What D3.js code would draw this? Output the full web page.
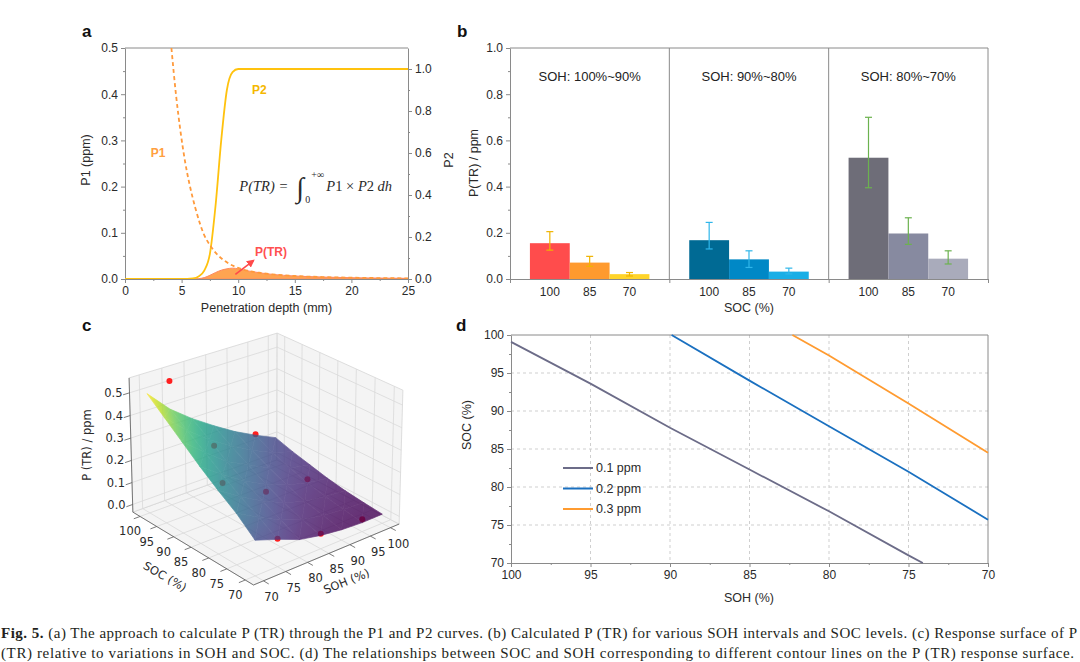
<!DOCTYPE html>
<html>
<head>
<meta charset="utf-8">
<script src="https://cdn.jsdelivr.net/npm/d3@7"></script>
<style>
  body { margin: 0; background: #fff; }
  svg { display: block; }
</style>
</head>
<body>
<svg width="1080" height="662"></svg>
<script>
// ---------- DATA ----------
// panel a : curves
const p1Depth = [4.1, 4.5, 4.9, 5.3, 5.7, 6.2, 7.0, 7.6, 8.0, 9.0, 10, 11, 12, 13, 15, 17.5, 20, 22.5, 25];
const p1Vals  = [0.5, 0.4, 0.32, 0.255, 0.205, 0.155, 0.095, 0.07, 0.057, 0.036, 0.024, 0.017, 0.013, 0.01, 0.0065, 0.0042, 0.0028, 0.002, 0.0014];
const p2Depth = [0, 5, 6, 6.5, 7, 7.5, 8, 8.5, 9, 9.5, 10, 25];
const p2Vals  = [0, 0, 0.003, 0.012, 0.04, 0.12, 0.35, 0.66, 0.9, 0.985, 1, 1];
const trDepth = [6.0, 6.5, 7.0, 7.5, 8.0, 8.5, 9.0, 9.5, 10, 11, 12, 13, 15, 17.5, 20, 22.5, 25];
const trVals  = [0, 0.0008, 0.003, 0.008, 0.014, 0.019, 0.022, 0.0235, 0.022, 0.017, 0.013, 0.01, 0.0065, 0.0042, 0.0028, 0.002, 0.0014];

// panel b : P(TR) per SOH interval and SOC level
const sohGroups = ["SOH: 100%~90%", "SOH: 90%~80%", "SOH: 80%~70%"];
const socLevels = ["100", "85", "70"];
const ptrMean = [[0.155, 0.071, 0.021], [0.168, 0.085, 0.032], [0.525, 0.197, 0.088]];
const ptrLow  = [[0.125, 0.055, 0.013], [0.130, 0.050, 0.022], [0.395, 0.150, 0.065]];
const ptrHigh = [[0.205, 0.098, 0.028], [0.245, 0.122, 0.047], [0.700, 0.265, 0.122]];

// panel c : response surface grid (rows SOH 70..100, cols SOC 70..100)
const gridSoh = [70, 75, 80, 85, 90, 95, 100];
const gridSoc = [70, 75, 80, 85, 90, 95, 100];
const surfZ = [
  [0.120, 0.190, 0.245, 0.305, 0.370, 0.435, 0.500],
  [0.085, 0.135, 0.180, 0.235, 0.290, 0.345, 0.400],
  [0.045, 0.085, 0.125, 0.170, 0.215, 0.270, 0.325],
  [0.025, 0.050, 0.080, 0.120, 0.165, 0.210, 0.260],
  [0.012, 0.030, 0.050, 0.080, 0.115, 0.155, 0.200],
  [0.006, 0.020, 0.035, 0.055, 0.080, 0.110, 0.150],
  [0.007, 0.015, 0.025, 0.040, 0.060, 0.080, 0.105]
];
const ptsSoh = [95, 85, 75];      // SOH interval mid points
const ptsSoc = [100, 85, 70];
const zTicks = [0, 0.1, 0.2, 0.3, 0.4, 0.5];

// panel d : contour lines
const contourLabels = ["0.1 ppm", "0.2 ppm", "0.3 ppm"];
const c1Soh = [100, 95, 90, 85, 80, 75, 74.1];
const c1Soc = [99.1, 93.6, 87.8, 82.3, 76.8, 71.0, 70];
const c2Soh = [89.9, 85, 80, 75, 70];
const c2Soc = [100, 94.0, 88.0, 82.0, 75.7];
const c3Soh = [82.3, 80, 75, 70];
const c3Soc = [100, 97.3, 91.0, 84.5];

// ---------- SETUP ----------
const svg = d3.select("svg");
const sans = "'Liberation Sans', Arial, sans-serif";
const axisGray = "#8a8a8a";
const textCol = "#2a2a2a";
const tickSize = 12, titleSize = 12.5;

function styleAxis(g) {
  g.attr("font-size", tickSize).attr("font-family", sans);
  g.select(".domain").attr("stroke", axisGray);
  g.selectAll(".tick line").attr("stroke", axisGray);
  g.selectAll(".tick text").attr("fill", textCol);
}
function minorAxis(g) {
  g.select(".domain").remove();
  g.selectAll(".tick line").attr("stroke", axisGray);
}
function panelLetter(x, y, t) {
  svg.append("text").attr("x", x).attr("y", y).attr("font-family", sans)
    .attr("font-size", 17).attr("font-weight", "bold").attr("fill", "#111").text(t);
}

svg.append("defs").append("marker")
  .attr("id", "arrowRed").attr("viewBox", "0 0 10 10").attr("refX", 8).attr("refY", 5)
  .attr("markerWidth", 5).attr("markerHeight", 5).attr("orient", "auto")
  .append("path").attr("d", "M0,0 L10,5 L0,10 z").attr("fill", "#ff4a4a");

// ---------- PANEL A ----------
const aX = d3.scaleLinear().domain([0, 25]).range([125, 408]);
const aY1 = d3.scaleLinear().domain([0, 0.5]).range([279, 48]);
const aY2 = d3.scaleLinear().domain([0, 1.1]).range([279, 48]);

svg.append("clipPath").attr("id", "clipA").append("rect")
  .attr("x", 125).attr("y", 48).attr("width", 283).attr("height", 231);

const gA = svg.append("g");
gA.append("line").attr("x1", 125).attr("x2", 408).attr("y1", 48).attr("y2", 48).attr("stroke", axisGray);

gA.append("g").attr("transform", "translate(0,279)")
  .call(d3.axisBottom(aX).tickValues(d3.range(2.5, 25, 5)).tickSize(2).tickFormat("")).call(minorAxis);
gA.append("g").attr("transform", "translate(0,279)")
  .call(d3.axisBottom(aX).tickValues(d3.range(0, 26, 5)).tickSize(4).tickSizeOuter(0).tickFormat(d3.format("d"))).call(styleAxis);
gA.append("g").attr("transform", "translate(125,0)")
  .call(d3.axisLeft(aY1).tickValues(d3.range(0.05, 0.5, 0.1)).tickSize(2).tickFormat("")).call(minorAxis);
gA.append("g").attr("transform", "translate(125,0)")
  .call(d3.axisLeft(aY1).tickValues(d3.range(0, 0.51, 0.1)).tickSize(4).tickSizeOuter(0).tickFormat(d3.format(".1f"))).call(styleAxis);
gA.append("g").attr("transform", "translate(408,0)")
  .call(d3.axisRight(aY2).tickValues(d3.range(0.1, 1.1, 0.2)).tickSize(2).tickFormat("")).call(minorAxis);
gA.append("g").attr("transform", "translate(408,0)")
  .call(d3.axisRight(aY2).tickValues(d3.range(0, 1.01, 0.2)).tickSize(4).tickSizeOuter(0).tickFormat(d3.format(".1f"))).call(styleAxis);

const plotA = gA.append("g").attr("clip-path", "url(#clipA)");
plotA.append("path")
  .datum(trDepth.map((d, i) => [d, trVals[i]]))
  .attr("d", d3.area().x(d => aX(d[0])).y0(aY1(0)).y1(d => aY1(d[1])).curve(d3.curveMonotoneX))
  .attr("fill", "#ffa451").attr("stroke", "#ff8860").attr("stroke-width", 1);
plotA.append("path")
  .datum(p2Depth.map((d, i) => [d, p2Vals[i]]))
  .attr("d", d3.line().x(d => aX(d[0])).y(d => aY2(d[1])).curve(d3.curveMonotoneX))
  .attr("fill", "none").attr("stroke", "#ffc20e").attr("stroke-width", 1.8);
plotA.append("path")
  .datum(p1Depth.map((d, i) => [d, p1Vals[i]]))
  .attr("d", d3.line().x(d => aX(d[0])).y(d => aY1(d[1])).curve(d3.curveMonotoneX))
  .attr("fill", "none").attr("stroke", "#ff9a3c").attr("stroke-width", 1.8).attr("stroke-dasharray", "4,3");

gA.append("line")
  .attr("x1", aX(9.75)).attr("y1", aY1(0.01)).attr("x2", aX(11.35)).attr("y2", aY1(0.04))
  .attr("stroke", "#ff4a4a").attr("stroke-width", 1.6).attr("marker-end", "url(#arrowRed)");
gA.append("text").attr("x", aX(12.9)).attr("y", aY1(0.058)).attr("dy", "0.35em").attr("text-anchor", "middle")
  .attr("font-family", sans).attr("font-size", 12).attr("font-weight", "bold").attr("fill", "#ff5050").text("P(TR)");
gA.append("text").attr("x", aX(2.93)).attr("y", aY1(0.273)).attr("dy", "0.35em").attr("text-anchor", "middle")
  .attr("font-family", sans).attr("font-size", 12).attr("font-weight", "bold").attr("fill", "#ffa040").text("P1");
gA.append("text").attr("x", aX(11.87)).attr("y", aY1(0.409)).attr("dy", "0.35em").attr("text-anchor", "middle")
  .attr("font-family", sans).attr("font-size", 12).attr("font-weight", "bold").attr("fill", "#f5b800").text("P2");

// formula
const fx = aX(10.1), fy = aY1(0.19);
const serif = "'Liberation Serif', 'DejaVu Serif', serif";
gA.append("text").attr("x", fx).attr("y", fy).attr("font-family", serif).attr("font-size", 14.5)
  .attr("font-style", "italic").attr("fill", "#2a2a2a").text("P(TR) =");
gA.append("text").attr("x", fx + 57).attr("y", fy + 6).attr("font-family", serif).attr("font-size", 28)
  .attr("fill", "#2a2a2a").text("∫");
gA.append("text").attr("x", fx + 72).attr("y", fy - 13).attr("font-family", serif).attr("font-size", 10)
  .attr("fill", "#2a2a2a").text("+∞");
gA.append("text").attr("x", fx + 66).attr("y", fy + 12).attr("font-family", serif).attr("font-size", 10)
  .attr("fill", "#2a2a2a").text("0");
const fTail = gA.append("text").attr("x", fx + 87).attr("y", fy).attr("font-family", serif).attr("font-size", 14.5)
  .attr("fill", "#2a2a2a");
fTail.append("tspan").attr("font-style", "italic").text("P");
fTail.append("tspan").text("1 × ");
fTail.append("tspan").attr("font-style", "italic").text("P");
fTail.append("tspan").text("2 ");
fTail.append("tspan").attr("font-style", "italic").text("dh");

gA.append("text").attr("transform", "translate(90,160) rotate(-90)").attr("text-anchor", "middle")
  .attr("font-family", sans).attr("font-size", titleSize).attr("fill", textCol).text("P1 (ppm)");
gA.append("text").attr("transform", "translate(453,160) rotate(-90)").attr("text-anchor", "middle")
  .attr("font-family", sans).attr("font-size", titleSize).attr("fill", textCol).text("P2");
gA.append("text").attr("x", aX(12.5)).attr("y", 312).attr("text-anchor", "middle")
  .attr("font-family", sans).attr("font-size", titleSize).attr("fill", textCol).text("Penetration depth (mm)");
panelLetter(82, 37, "a");

// ---------- PANEL B ----------
const bX = d3.scaleBand().domain(sohGroups).range([510, 988]);
const bIn = d3.scaleBand().domain(socLevels).range([0, bX.bandwidth()]).paddingInner(0).paddingOuter(0.5);
const bSec = d3.scaleLinear().domain([0, 3]).range([510, 988]);
const bY = d3.scaleLinear().domain([0, 1]).range([279, 48]);
const barColors = [["#ff4c4c", "#ff9a2e", "#ffd42a"], ["#006a94", "#0088c6", "#19aee6"], ["#6e6d78", "#878aa0", "#a9abbb"]];
const errColors = ["#f0b400", "#2fb6ea", "#6cb24f"];

const gB = svg.append("g");
gB.append("line").attr("x1", 510).attr("x2", 988).attr("y1", 48).attr("y2", 48).attr("stroke", axisGray);
gB.append("line").attr("x1", 988).attr("x2", 988).attr("y1", 48).attr("y2", 279).attr("stroke", axisGray);
[1, 2].forEach(k => gB.append("line").attr("x1", bSec(k)).attr("x2", bSec(k)).attr("y1", 48).attr("y2", 279).attr("stroke", axisGray));

gB.append("g").attr("transform", "translate(0,279)")
  .call(d3.axisBottom(bSec).tickValues([0, 1, 2, 3]).tickSize(4).tickSizeOuter(0).tickFormat("")).call(styleAxis);
gB.append("g").attr("transform", "translate(510,0)")
  .call(d3.axisLeft(bY).tickValues(d3.range(0.1, 1, 0.2)).tickSize(2).tickFormat("")).call(minorAxis);
gB.append("g").attr("transform", "translate(510,0)")
  .call(d3.axisLeft(bY).tickValues(d3.range(0, 1.01, 0.2)).tickSize(4).tickSizeOuter(0).tickFormat(d3.format(".1f"))).call(styleAxis);

sohGroups.forEach((g, gi) => {
  const x0 = bX(g);
  gB.append("text").attr("x", x0 + bX.bandwidth() / 2).attr("y", 81).attr("text-anchor", "middle")
    .attr("font-family", sans).attr("font-size", 13).attr("fill", "#222").text(g);
  socLevels.forEach((s, si) => {
    const bx = x0 + bIn(s), bw = bIn.bandwidth(), cx = bx + bw / 2;
    gB.append("rect").attr("x", bx).attr("y", bY(ptrMean[gi][si])).attr("width", bw)
      .attr("height", bY(0) - bY(ptrMean[gi][si])).attr("fill", barColors[gi][si]);
    const ec = errColors[gi];
    gB.append("line").attr("x1", cx).attr("x2", cx).attr("y1", bY(ptrLow[gi][si])).attr("y2", bY(ptrHigh[gi][si]))
      .attr("stroke", ec).attr("stroke-width", 1.2);
    [ptrLow[gi][si], ptrHigh[gi][si]].forEach(v => gB.append("line")
      .attr("x1", cx - 3.5).attr("x2", cx + 3.5).attr("y1", bY(v)).attr("y2", bY(v))
      .attr("stroke", ec).attr("stroke-width", 1.2));
    gB.append("text").attr("x", cx).attr("y", 296).attr("text-anchor", "middle")
      .attr("font-family", sans).attr("font-size", tickSize).attr("fill", textCol).text(s);
  });
});
gB.append("text").attr("transform", "translate(478,163) rotate(-90)").attr("text-anchor", "middle")
  .attr("font-family", sans).attr("font-size", titleSize).attr("fill", textCol).text("P(TR) / ppm");
gB.append("text").attr("x", 749).attr("y", 312).attr("text-anchor", "middle")
  .attr("font-family", sans).attr("font-size", titleSize).attr("fill", textCol).text("SOC (%)");
panelLetter(457, 37, "b");

// ---------- PANEL C (3D surface) ----------
const sohRange = [67.8, 102.2], socRange = [67.8, 102.2], zRange = [-0.035, 0.565];
const cU = d3.scaleLinear().domain(sohRange).range([-0.5, 0.5]);
const cV = d3.scaleLinear().domain(socRange).range([-0.5, 0.5]);
const cW = d3.scaleLinear().domain(zRange).range([-0.5, 0.5]);
function proj(soh, soc, z) {
  const u = cU(soh), v = cV(soc), w = cW(z);
  const f = 1 / (1 + 0.07 * (u + v - 0.4 * w));
  return [266 + f * (u * 146.8 - v * 123.2), 452 + f * (-u * 52.5 - v * 64.6 - w * 134)];
}
const [h0, h1] = sohRange, [s0, s1] = socRange, [z0, z1] = zRange;
const gC = svg.append("g");
const lineGen = d3.line();

// panes
const panes = [
  [[h0, s0, z0], [h1, s0, z0], [h1, s1, z0], [h0, s1, z0]],
  [[h0, s1, z0], [h1, s1, z0], [h1, s1, z1], [h0, s1, z1]],
  [[h1, s0, z0], [h1, s1, z0], [h1, s1, z1], [h1, s0, z1]]
];
panes.forEach(p => gC.append("path").attr("d", lineGen(p.map(q => proj(...q))) + "Z")
  .attr("fill", "#f4f4f4").attr("stroke", "#d6d6d6").attr("stroke-width", 0.8));

function seg(a, b, col, w) {
  gC.append("path").attr("d", lineGen([proj(...a), proj(...b)]))
    .attr("stroke", col).attr("stroke-width", w).attr("fill", "none");
}
const gridCol = "#d9d9d9";
gridSoh.forEach(t => { seg([t, s0, z0], [t, s1, z0], gridCol, 0.8); seg([t, s1, z0], [t, s1, z1], gridCol, 0.8); });
gridSoc.forEach(t => { seg([h0, t, z0], [h1, t, z0], gridCol, 0.8); seg([h1, t, z0], [h1, t, z1], gridCol, 0.8); });
zTicks.forEach(t => { seg([h0, s1, t], [h1, s1, t], gridCol, 0.8); seg([h1, s1, t], [h1, s0, t], gridCol, 0.8); });

// axis lines + ticks
const axCol = "#5a5a5a";
seg([h0, s1, z0], [h0, s1, z1], axCol, 0.8);
seg([h0, s0, z0], [h0, s1, z0], axCol, 0.8);
seg([h0, s0, z0], [h1, s0, z0], axCol, 0.8);
const tickFont = "'DejaVu Sans', sans-serif";
gridSoc.forEach(t => {
  seg([h0, t, z0], [h0 - 1.4, t, z0], axCol, 0.8);
  const p = proj(h0, t, z0);
  gC.append("text").attr("x", p[0] - 10).attr("y", p[1] + 15).attr("dy", "0.35em").attr("text-anchor", "middle")
    .attr("font-family", tickFont).attr("font-size", 11.5).attr("fill", textCol).text(t);
});
gridSoh.forEach(t => {
  seg([t, s0, z0], [t, s0 - 1.4, z0], axCol, 0.8);
  const p = proj(t, s0, z0);
  gC.append("text").attr("x", p[0] + 8).attr("y", p[1] + 16).attr("dy", "0.35em").attr("text-anchor", "middle")
    .attr("font-family", tickFont).attr("font-size", 11.5).attr("fill", textCol).text(t);
});
zTicks.forEach(t => {
  seg([h0, s1, t], [h0 - 1.4, s1, t], axCol, 0.8);
  const p = proj(h0, s1, t);
  gC.append("text").attr("x", p[0] - 7).attr("y", p[1]).attr("dy", "0.35em").attr("text-anchor", "end")
    .attr("font-family", tickFont).attr("font-size", 11.5).attr("fill", textCol).text(d3.format(".1f")(t));
});

// measured points (drawn under the semi transparent surface)
ptsSoh.forEach((h, gi) => ptsSoc.forEach((s, si) => {
  const p = proj(h, s, ptrMean[gi][si]);
  gC.append("circle").attr("cx", p[0]).attr("cy", p[1]).attr("r", 3).attr("fill", "#ff1f1f");
}));

// surface
const zAll = surfZ.flat();
const colorC = d3.scaleSequential(d3.interpolateViridis).domain(d3.extent(zAll));
const tris = [];
for (let i = 0; i < gridSoh.length - 1; i++) {
  for (let j = 0; j < gridSoc.length - 1; j++) {
    const c = [[i, j], [i + 1, j], [i + 1, j + 1], [i, j + 1]].map(([a, b]) => ({
      p: proj(gridSoh[a], gridSoc[b], surfZ[a][b]), z: surfZ[a][b],
      depth: cU(gridSoh[a]) + cV(gridSoc[b])
    }));
    tris.push([c[0], c[1], c[2]], [c[0], c[2], c[3]]);
  }
}
tris.sort((a, b) => d3.sum(b, d => d.depth) - d3.sum(a, d => d.depth));
const defsC = svg.select("defs");
const surfG = gC.append("g").attr("opacity", 0.8);
tris.forEach((t, k) => {
  const [A, B, C] = t;
  const dx1 = B.p[0] - A.p[0], dy1 = B.p[1] - A.p[1], dt1 = B.z - A.z;
  const dx2 = C.p[0] - A.p[0], dy2 = C.p[1] - A.p[1], dt2 = C.z - A.z;
  const det = dx1 * dy2 - dx2 * dy1;
  const ga = (dt1 * dy2 - dt2 * dy1) / det, gb = (dx1 * dt2 - dx2 * dt1) / det;
  const g2 = ga * ga + gb * gb;
  const zmin = d3.min(t, d => d.z), zmax = d3.max(t, d => d.z);
  let fill;
  if (g2 < 1e-12 || zmax - zmin < 1e-6) {
    fill = colorC((zmin + zmax) / 2);
  } else {
    const id = "tri" + k;
    const gr = defsC.append("linearGradient").attr("id", id).attr("gradientUnits", "userSpaceOnUse")
      .attr("x1", A.p[0] + ga * (zmin - A.z) / g2).attr("y1", A.p[1] + gb * (zmin - A.z) / g2)
      .attr("x2", A.p[0] + ga * (zmax - A.z) / g2).attr("y2", A.p[1] + gb * (zmax - A.z) / g2);
    [0, 0.5, 1].forEach(o => gr.append("stop").attr("offset", o).attr("stop-color", colorC(zmin + o * (zmax - zmin))));
    fill = "url(#" + id + ")";
  }
  surfG.append("path").attr("d", lineGen(t.map(d => d.p)) + "Z")
    .attr("fill", fill).attr("stroke", fill).attr("stroke-width", 0.7).attr("stroke-linejoin", "round");
});

gC.append("text").attr("transform", "translate(91,445) rotate(-90)").attr("text-anchor", "middle")
  .attr("font-family", tickFont).attr("font-size", 11.5).attr("fill", textCol).text("P (TR) / ppm");
gC.append("text").attr("transform", "translate(163,580) rotate(30)").attr("text-anchor", "middle")
  .attr("font-family", tickFont).attr("font-size", 11.5).attr("fill", textCol).text("SOC (%)");
gC.append("text").attr("transform", "translate(348,585) rotate(-22)").attr("text-anchor", "middle")
  .attr("font-family", tickFont).attr("font-size", 11.5).attr("fill", textCol).text("SOH (%)");
panelLetter(82, 331, "c");

// ---------- PANEL D ----------
const dX = d3.scaleLinear().domain([100, 70]).range([511, 988]);
const dY = d3.scaleLinear().domain([70, 100]).range([563, 335]);
const gD = svg.append("g");
[95, 90, 85, 80, 75].forEach(v => {
  gD.append("line").attr("x1", dX(v)).attr("x2", dX(v)).attr("y1", 335).attr("y2", 563)
    .attr("stroke", "#cfcfcf").attr("stroke-dasharray", "3,3");
  gD.append("line").attr("x1", 511).attr("x2", 988).attr("y1", dY(v)).attr("y2", dY(v))
    .attr("stroke", "#cfcfcf").attr("stroke-dasharray", "3,3");
});
gD.append("line").attr("x1", 511).attr("x2", 988).attr("y1", 335).attr("y2", 335).attr("stroke", axisGray);
gD.append("line").attr("x1", 988).attr("x2", 988).attr("y1", 335).attr("y2", 563).attr("stroke", axisGray);
gD.append("g").attr("transform", "translate(0,563)")
  .call(d3.axisBottom(dX).tickValues(d3.range(97.5, 70, -5)).tickSize(2).tickFormat("")).call(minorAxis);
gD.append("g").attr("transform", "translate(0,563)")
  .call(d3.axisBottom(dX).tickValues(d3.range(100, 69, -5)).tickSize(4).tickSizeOuter(0).tickFormat(d3.format("d"))).call(styleAxis);
gD.append("g").attr("transform", "translate(511,0)")
  .call(d3.axisLeft(dY).tickValues(d3.range(72.5, 100, 5)).tickSize(2).tickFormat("")).call(minorAxis);
gD.append("g").attr("transform", "translate(511,0)")
  .call(d3.axisLeft(dY).tickValues(d3.range(70, 101, 5)).tickSize(4).tickSizeOuter(0).tickFormat(d3.format("d"))).call(styleAxis);

const contourColors = ["#6c6c88", "#1a70c0", "#ff9b30"];
const contours = [[c1Soh, c1Soc], [c2Soh, c2Soc], [c3Soh, c3Soc]];
contours.forEach(([hs, ss], k) => {
  gD.append("path").datum(hs.map((h, i) => [h, ss[i]]))
    .attr("d", d3.line().x(d => dX(d[0])).y(d => dY(d[1])))
    .attr("fill", "none").attr("stroke", contourColors[k]).attr("stroke-width", 1.8);
  const ly = 468 + k * 20.5;
  gD.append("line").attr("x1", 563).attr("x2", 593).attr("y1", ly).attr("y2", ly)
    .attr("stroke", contourColors[k]).attr("stroke-width", 2);
  gD.append("text").attr("x", 596).attr("y", ly).attr("dy", "0.35em").attr("font-family", sans)
    .attr("font-size", 12.5).attr("fill", textCol).text(contourLabels[k]);
});
gD.append("text").attr("transform", "translate(471,425) rotate(-90)").attr("text-anchor", "middle")
  .attr("font-family", sans).attr("font-size", titleSize).attr("fill", textCol).text("SOC (%)");
gD.append("text").attr("x", 749).attr("y", 602).attr("text-anchor", "middle")
  .attr("font-family", sans).attr("font-size", titleSize).attr("fill", textCol).text("SOH (%)");
panelLetter(456, 331, "d");

// ---------- CAPTION ----------
const capFont = "'Liberation Serif', 'DejaVu Serif', serif";
const cap1 = svg.append("text").attr("x", 1).attr("y", 638).attr("font-family", capFont).attr("font-size", 15)
  .attr("fill", "#231f20").attr("textLength", 1076).attr("lengthAdjust", "spacing");
cap1.append("tspan").attr("font-weight", "bold").text("Fig. 5.");
cap1.append("tspan").text("  (a) The approach to calculate P (TR) through the P1 and P2 curves. (b) Calculated P (TR) for various SOH intervals and SOC levels. (c) Response surface of P");
svg.append("text").attr("x", 1).attr("y", 658).attr("font-family", capFont).attr("font-size", 15)
  .attr("fill", "#231f20").attr("textLength", 1073).attr("lengthAdjust", "spacing")
  .text("(TR) relative to variations in SOH and SOC. (d) The relationships between SOC and SOH corresponding to different contour lines on the P (TR) response surface.");
</script>
</body>
</html>
